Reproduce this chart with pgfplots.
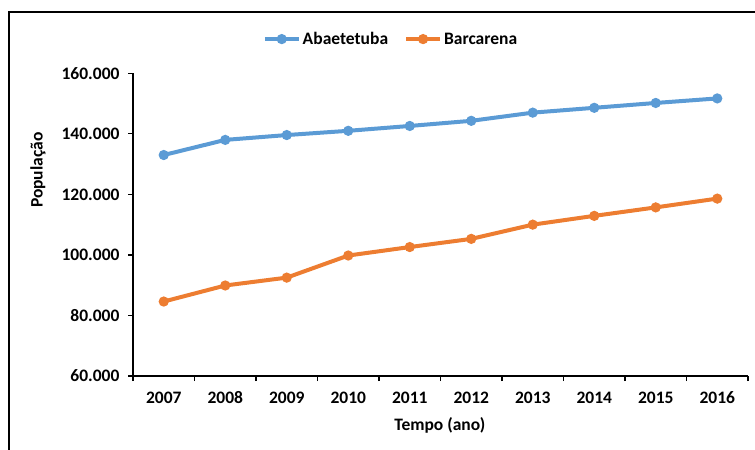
\documentclass[border=0pt]{standalone}
\usepackage{fontspec}
\setmainfont{Carlito}
\usepackage{pgfplots}
\pgfplotsset{compat=1.18}
\definecolor{cblue}{HTML}{5B9BD5}
\definecolor{corange}{HTML}{ED7D31}
\begin{document}
\begin{tikzpicture}
\useasboundingbox (0,0) rectangle (755bp,450bp);
\draw[line width=2.2bp] (9bp,-5bp) -- (9bp,438bp) -- (760bp,438bp);
\begin{axis}[
  at={(133bp,74bp)}, anchor=south west,
  scale only axis, width=615bp, height=302.7bp,
  xmin=0.5, xmax=10.5, ymin=60000, ymax=160000,
  scaled y ticks=false,
  axis x line*=bottom, axis y line*=left,
  axis line style={line width=1.2bp, -},
  xtick={0.5,1.5,...,10.5},
  xticklabels={},
  extra x ticks={1,...,10},
  extra x tick labels={2007,2008,2009,2010,2011,2012,2013,2014,2015,2016},
  extra x tick style={major tick length=0pt, xticklabel style={anchor=base, yshift=-28bp}},
  major tick length=5bp,
  tick align=outside,
  tick style={line width=1.2bp, black},
  ytick={60000,80000,100000,120000,140000,160000},
  yticklabels={60.000,80.000,100.000,120.000,140.000,160.000},
  tick label style={font=\fontsize{17.5bp}{20bp}\selectfont\bfseries},
  yticklabel style={xshift=-5bp},
  xlabel={Tempo (ano)}, ylabel={População},
  label style={font=\fontsize{17.5bp}{20bp}\selectfont\bfseries},
  xlabel style={at={(axis description cs:0.499,-0.163)}, anchor=center},
  ylabel style={at={(axis description cs:-0.1545,0.68)}, anchor=center},
  legend style={at={(0.4195,1.113)}, anchor=center, draw=none,
    font=\fontsize{17.5bp}{20bp}\selectfont\bfseries,
    legend columns=2, /tikz/every even column/.append style={column sep=14bp}},
  legend image code/.code={\draw[mark repeat=2,mark phase=2,#1] plot coordinates {(0bp,0bp) (17bp,0bp) (34bp,0bp)};},
  clip=false,
]
\addplot[color=cblue, line width=4bp, mark=*, mark options={scale=1.5}] coordinates {
(1,133000) (2,138000) (3,139600) (4,141000) (5,142600) (6,144300) (7,147000) (8,148600) (9,150200) (10,151700)};
\addlegendentry{Abaetetuba}
\addplot[color=corange, line width=4bp, mark=*, mark options={scale=1.5}] coordinates {
(1,84600) (2,89900) (3,92500) (4,99800) (5,102600) (6,105300) (7,110000) (8,112900) (9,115700) (10,118600)};
\addlegendentry{Barcarena}
\end{axis}
\end{tikzpicture}
\end{document}
